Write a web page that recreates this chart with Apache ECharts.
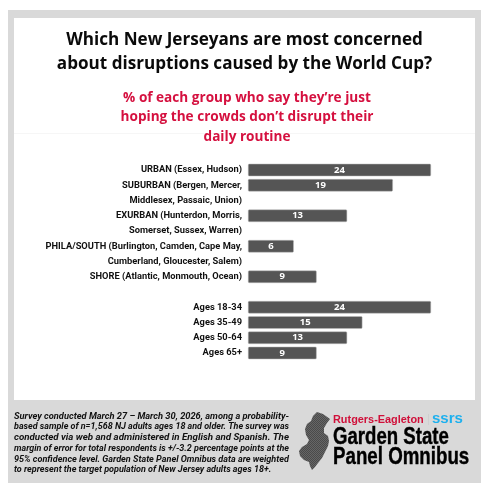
<!DOCTYPE html>
<html>
<head>
<meta charset="utf-8">
<style>
html, body { margin: 0; padding: 0; background: #fff; }
#chart { width: 493px; height: 494px; }
</style>
<script src="https://cdn.jsdelivr.net/npm/echarts@6/dist/echarts.min.js"></script>
</head>
<body>
<div id="chart"></div>
<script>
var categories = [
	'URBAN (Essex, Hudson)',
	'SUBURBAN (Bergen, Mercer,',
	'Middlesex, Passaic, Union)',
	'EXURBAN (Hunterdon, Morris,',
	'Somerset, Sussex, Warren)',
	'PHILA/SOUTH (Burlington, Camden, Cape May,',
	'Cumberland, Gloucester, Salem)',
	'SHORE (Atlantic, Monmouth, Ocean)',
	'',
	'Ages 18-34',
	'Ages 35-49',
	'Ages 50-64',
	'Ages 65+'
];
var values = [24, 19, null, 13, null, 6, null, 9, null, 24, 15, 13, 9];

var titleText = 'Which New Jerseyans are most concerned\nabout disruptions caused by the World Cup?';
var subText = '% of each group who say they\u2019re just\nhoping the crowds don\u2019t disrupt their\ndaily routine';

var noteLines = [
	'Survey conducted March 27 \u2013 March 30, 2026, among a probability-',
	'based sample of n=1,568 NJ adults ages 18 and older. The survey was',
	'conducted via web and administered in English and Spanish. The',
	'margin of error for total respondents is +/-3.2 percentage points at the',
	'95% confidence level. Garden State Panel Omnibus data are weighted',
	'to represent the target population of New Jersey adults ages 18+.'
];

var njShape = [
	[317,412],[323,414],[330,419],[327,423],[324,428],[324,433],[328,436],[329,441],
	[328,446],[325,452],[322,458],[318,463],[315,467],[312,470],[310,466],[309,462],
	[304,460],[300,456],[299,451],[302,447],[307,444],[309,440],[306,435],[305,429],
	[307,424],[311,421],[313,416]
];

var canvasMeasure = document.createElement('canvas').getContext('2d');
var noteFont = 'italic bold 9px Roboto';

// each note line gets stretched a little so the block stays justified
function noteElements(){
	var els = [];
	canvasMeasure.font = noteFont;
	for(var i = 0; i < noteLines.length; i++){
		var w = canvasMeasure.measureText(noteLines[i]).width;
		var sx = i < noteLines.length - 1 ? 275 / w : 1;
		els.push({
			type: 'text',
			x: 14,
			y: 416.5 + i * 10.7,
			scaleX: sx,
			style: {
				text: noteLines[i],
				font: noteFont,
				fill: '#111111',
				textVerticalAlign: 'middle'
			}
		});
	}
	return els;
}

// halftone look of the state silhouette
function dotPattern(){
	var c = document.createElement('canvas');
	c.width = 2;
	c.height = 2;
	var ctx = c.getContext('2d');
	ctx.fillStyle = '#666666';
	ctx.fillRect(0, 0, 2, 2);
	ctx.fillStyle = '#4a4a4a';
	ctx.fillRect(0, 0, 1, 1);
	ctx.fillRect(1, 1, 1, 1);
	return { image: c, repeat: 'repeat' };
}

var logoHeavy = { stroke: '#000000', lineWidth: 0.4 };

var graphics = [
	{ type: 'rect', z: -10, shape: { x: 8, y: 10, width: 473, height: 473 }, style: { fill: '#d9d9d9' } },
	{ type: 'rect', z: -9, shape: { x: 14, y: 18, width: 461, height: 382 }, style: { fill: '#ffffff' } },
	{ type: 'line', z: -8, shape: { x1: 14, y1: 133.5, x2: 475, y2: 133.5 }, style: { stroke: '#f6f6f6', lineWidth: 1 } },
	{ type: 'polygon', shape: { points: njShape }, style: { fill: dotPattern() } },
	{ type: 'text', x: 333, y: 419.5, style: { text: 'Rutgers-Eagleton', font: 'bold 10.9px "Liberation Sans"', fill: '#d0103a', textVerticalAlign: 'middle' } },
	{ type: 'rect', shape: { x: 428, y: 414, width: 1, height: 11 }, style: { fill: '#cfcfcf' } },
	{ type: 'text', x: 432, y: 418.5, style: { text: 'ssrs', font: 'bold 15px "Liberation Sans"', fill: '#1cb0ee', textVerticalAlign: 'middle' } },
	{ type: 'text', x: 333, y: 437, scaleX: 0.775, style: { text: 'Garden State', font: 'bold 24px "Liberation Sans"', fill: '#000000', stroke: logoHeavy.stroke, lineWidth: logoHeavy.lineWidth, textVerticalAlign: 'middle' } },
	{ type: 'text', x: 333, y: 457, scaleX: 0.78, style: { text: 'Panel Omnibus', font: 'bold 24px "Liberation Sans"', fill: '#000000', stroke: logoHeavy.stroke, lineWidth: logoHeavy.lineWidth, textVerticalAlign: 'middle' } }
].concat(noteElements());

var option = {
	backgroundColor: '#ffffff',
	animation: false,
	title: [
		{
			text: titleText,
			left: 244.5,
			top: 28,
			padding: 0,
			textAlign: 'center',
			textStyle: { fontFamily: 'Open Sans', fontWeight: 700, fontSize: 17.1, lineHeight: 24, color: '#0a0a0a' }
		},
		{
			text: subText,
			left: 247,
			top: 88,
			padding: 0,
			textAlign: 'center',
			textStyle: { fontFamily: 'Open Sans', fontWeight: 700, fontSize: 13.6, lineHeight: 19.5, color: '#d5103f' }
		}
	],
	grid: { left: 248, top: 162.4, width: 183, height: 198.2 },
	xAxis: { type: 'value', min: 0, max: 24, show: false },
	yAxis: {
		type: 'category',
		inverse: true,
		data: categories,
		axisLine: { show: false },
		axisTick: { show: false },
		axisLabel: {
			interval: 0,
			margin: 6,
			align: 'right',
			fontFamily: 'Roboto',
			fontWeight: 700,
			fontSize: 9.3,
			color: '#111111'
		}
	},
	series: [
		{
			type: 'bar',
			data: values,
			barWidth: 12.5,
			itemStyle: { color: '#555555', borderRadius: 1, borderColor: '#bdbdbd', borderWidth: 0.5 },
			label: {
				show: true,
				position: 'inside',
				fontFamily: 'Open Sans',
				fontWeight: 700,
				fontSize: 9.5,
				color: '#ffffff'
			}
		}
	],
	graphic: graphics
};

var chart = echarts.init(document.getElementById('chart'));
chart.setOption(option);
</script>
</body>
</html>
